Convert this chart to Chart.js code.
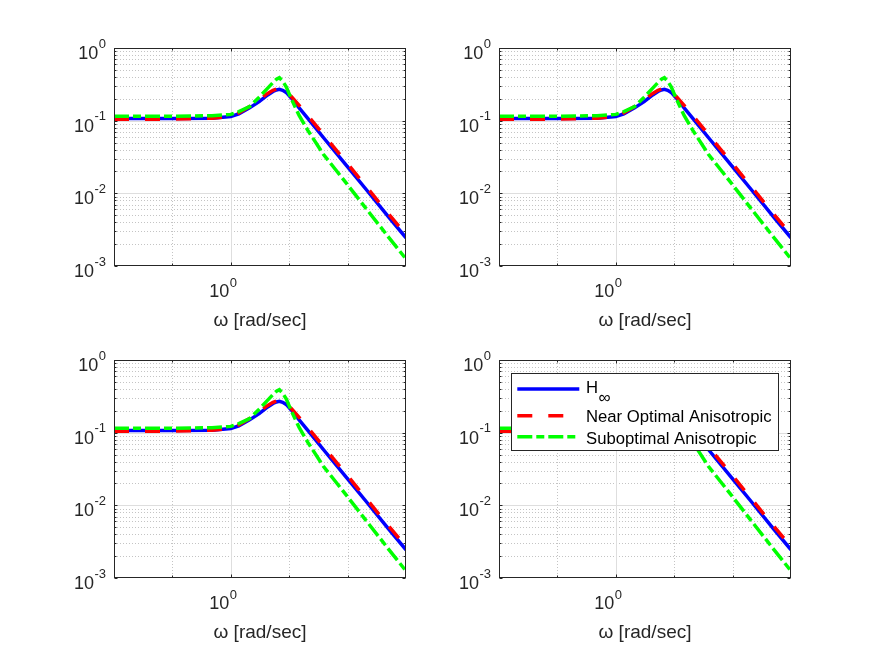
<!DOCTYPE html>
<html lang="en">
<head>
<meta charset="UTF-8">
<title>Frequency response</title>
<script src="https://cdn.jsdelivr.net/npm/chart.js"></script>
<style>
  html, body { margin: 0; padding: 0; background: #fff; }
  #fig { position: relative; width: 875px; height: 656px; overflow: hidden; background: #fff; }
  #fig canvas { position: absolute; }
</style>
</head>
<body>
<div id="fig">
  <canvas id="ax1" width="402" height="320"></canvas>
  <canvas id="ax2" width="402" height="320"></canvas>
  <canvas id="ax3" width="402" height="320"></canvas>
  <canvas id="ax4" width="402" height="320"></canvas>
</div>

<script>
// frequency points (rad/sec) and the three singular value curves
const omega   = [0.25, 0.5, 0.8, 1.0, 1.1, 1.25, 1.4, 1.55, 1.65, 1.72, 1.78, 1.85, 1.93, 2.05, 2.25, 2.5, 3.0, 4.0, 5.0, 6.5, 8.0];
const hInf    = [0.107, 0.107, 0.108, 0.114, 0.124, 0.150, 0.183, 0.226, 0.252, 0.265, 0.270, 0.262, 0.245, 0.205, 0.150, 0.107, 0.0587, 0.0231, 0.0112, 0.00475, 0.00244];
const nearOpt = [0.105, 0.105, 0.108, 0.115, 0.128, 0.157, 0.195, 0.237, 0.262, 0.272, 0.272, 0.265, 0.250, 0.215, 0.162, 0.117, 0.0645, 0.0255, 0.0123, 0.0052, 0.0027];
const subOpt  = [0.115, 0.115, 0.117, 0.122, 0.133, 0.156, 0.210, 0.280, 0.335, 0.372, 0.390, 0.350, 0.292, 0.200, 0.118, 0.073, 0.0345, 0.0131, 0.0061, 0.0025, 0.00125];
const seriesNames = ['H_∞', 'Near Optimal Anisotropic', 'Suboptimal Anisotropic'];

const xRange = [0.25, 8];
const yRange = [0.001, 1];
const xTicks = [1];
const xTickLabels = ['10^0'];
const xMinorTicks = [0.5, 2, 4];
const yTicks = [0.001, 0.01, 0.1, 1];
const yTickLabels = ['10^-3', '10^-2', '10^-1', '10^0'];
const xLabel = 'ω [rad/sec]';

const INK = '#262626';
const FONT = '"Liberation Sans", Arial, Helvetica, sans-serif';

// where each subplot's axes box sits in the figure
const panels = [
  { id: 'ax1', left: 114, top: 48, legend: false },
  { id: 'ax2', left: 499, top: 48, legend: false },
  { id: 'ax3', left: 114, top: 360, legend: false },
  { id: 'ax4', left: 499, top: 360, legend: true }
];
const plotW = 292, plotH = 218;
const padL = 90, padR = 20, padT = 25, canvasH = 320;
const titleSize = 19, titleGap = 43;

function yMinorTicks() {
  const out = [];
  for (let k = -3; k < 0; k++) {
    for (let m = 2; m <= 9; m++) out.push(m * Math.pow(10, k));
  }
  return out;
}

function splitAt(s, mark) {
  const i = s.indexOf(mark);
  return i < 0 ? [s, ''] : [s.slice(0, i), s.slice(i + 1)];
}

const matlabAxes = {
  id: 'matlabAxes',
  beforeDatasetsDraw(chart) {
    const { ctx, chartArea: a, scales } = chart;
    const sx = v => Math.round(scales.x.getPixelForValue(v)) + 0.5;
    const sy = v => Math.round(scales.y.getPixelForValue(v)) + 0.5;
    ctx.save();
    ctx.lineWidth = 1;
    // minor grid, dotted
    ctx.setLineDash([1, 2]);
    ctx.strokeStyle = '#c4c4c4';
    ctx.beginPath();
    xMinorTicks.forEach(v => { const p = sx(v); ctx.moveTo(p, a.top); ctx.lineTo(p, a.bottom); });
    yMinorTicks().forEach(v => { const p = sy(v); ctx.moveTo(a.left, p); ctx.lineTo(a.right, p); });
    ctx.stroke();
    // major grid, solid
    ctx.setLineDash([]);
    ctx.strokeStyle = '#dedede';
    ctx.beginPath();
    xTicks.forEach(v => { const p = sx(v); ctx.moveTo(p, a.top); ctx.lineTo(p, a.bottom); });
    yTicks.filter(v => v > yRange[0] && v < yRange[1]).forEach(v => {
      const p = sy(v); ctx.moveTo(a.left, p); ctx.lineTo(a.right, p);
    });
    ctx.stroke();
    ctx.restore();
  },
  afterDatasetsDraw(chart, args, opts) {
    const { ctx, chartArea: a, scales } = chart;
    const sx = v => Math.round(scales.x.getPixelForValue(v)) + 0.5;
    const sy = v => Math.round(scales.y.getPixelForValue(v)) + 0.5;
    const L = Math.round(a.left) + 0.5, R = Math.round(a.right) - 0.5;
    const T = Math.round(a.top) + 0.5, B = Math.round(a.bottom) - 0.5;
    ctx.save();
    ctx.strokeStyle = INK;
    ctx.lineWidth = 1;
    ctx.strokeRect(L, T, R - L, B - T);

    // inward tick marks on all four sides
    ctx.beginPath();
    const xt = (v, len) => { const p = sx(v); ctx.moveTo(p, B); ctx.lineTo(p, B - len); ctx.moveTo(p, T); ctx.lineTo(p, T + len); };
    const yt = (v, len) => { const p = sy(v); ctx.moveTo(L, p); ctx.lineTo(L + len, p); ctx.moveTo(R, p); ctx.lineTo(R - len, p); };
    xTicks.forEach(v => xt(v, 3));
    xMinorTicks.forEach(v => xt(v, 2));
    yTicks.forEach(v => yt(v, 3));
    yMinorTicks().forEach(v => yt(v, 2));
    ctx.stroke();

    // tick labels with superscript exponents
    ctx.fillStyle = INK;
    ctx.textBaseline = 'alphabetic';
    const baseFont = '18px ' + FONT, expFont = '13px ' + FONT;
    yTicks.forEach((v, i) => {
      const [base, exp] = splitAt(yTickLabels[i], '^');
      const p = scales.y.getPixelForValue(v);
      ctx.font = expFont;
      ctx.textAlign = 'right';
      const ew = ctx.measureText(exp).width;
      ctx.fillText(exp, a.left - 8, p - 0.5);
      ctx.font = baseFont;
      ctx.fillText(base, a.left - 8 - ew - 0.5, p + 11);
    });
    xTicks.forEach((v, i) => {
      const [base, exp] = splitAt(xTickLabels[i], '^');
      const p = scales.x.getPixelForValue(v);
      ctx.font = baseFont;
      ctx.textAlign = 'right';
      ctx.fillText(base, p - 1.5, a.bottom + 30.7);
      ctx.font = expFont;
      ctx.textAlign = 'left';
      ctx.fillText(exp, p - 1, a.bottom + 20.5);
    });

    if (opts.legend) drawLegend(chart);
    ctx.restore();
  }
};

function drawLegend(chart) {
  const { ctx, chartArea: a } = chart;
  const bx = Math.round(a.left + 12) + 0.5, by = Math.round(a.top + 13) + 0.5;
  ctx.save();
  ctx.fillStyle = '#fff';
  ctx.fillRect(bx, by, 267, 77);
  ctx.strokeStyle = INK;
  ctx.lineWidth = 1;
  ctx.strokeRect(bx, by, 267, 77);
  const lineY = [29, 55.7, 76.7];
  const textY = [33.3, 61.7, 84.3];
  chart.data.datasets.forEach((ds, i) => {
    ctx.strokeStyle = ds.borderColor;
    ctx.lineWidth = ds.borderWidth;
    ctx.setLineDash(ds.borderDash || []);
    ctx.beginPath();
    ctx.moveTo(a.left + 18.3, a.top + lineY[i]);
    ctx.lineTo(a.left + 80.3, a.top + lineY[i]);
    ctx.stroke();
    const [main, sub] = splitAt(ds.label, '_');
    ctx.fillStyle = '#000';
    ctx.textAlign = 'left';
    ctx.textBaseline = 'alphabetic';
    ctx.font = '16.7px ' + FONT;
    ctx.fillText(main, a.left + 87, a.top + textY[i]);
    if (sub) {
      const w = ctx.measureText(main).width;
      ctx.font = '17px ' + FONT;
      ctx.fillText(sub, a.left + 87 + w + 0.5, a.top + textY[i] + 9.5);
    }
  });
  ctx.restore();
}

function points(ys) {
  return omega.map((w, i) => ({ x: w, y: ys[i] }));
}

function makeDatasets() {
  const common = { pointRadius: 0, fill: false, tension: 0, borderWidth: 3.5, clip: 0 };
  return [
    Object.assign({ label: seriesNames[0], data: points(hInf), borderColor: '#0000ff', borderDash: [], order: 3 }, common),
    Object.assign({ label: seriesNames[1], data: points(nearOpt), borderColor: '#ff0000', borderDash: [15, 16], order: 2 }, common),
    Object.assign({ label: seriesNames[2], data: points(subOpt), borderColor: '#00ff00', borderDash: [15, 4, 8, 4], order: 1 }, common)
  ];
}

const titleHeight = titleSize * 1.2 + titleGap;

panels.forEach(p => {
  const canvas = document.getElementById(p.id);
  canvas.style.left = (p.left - padL) + 'px';
  canvas.style.top = (p.top - padT) + 'px';
  new Chart(canvas.getContext('2d'), {
    type: 'line',
    data: { datasets: makeDatasets() },
    options: {
      responsive: false,
      animation: false,
      events: [],
      layout: {
        padding: { left: padL, right: padR, top: padT, bottom: canvasH - padT - plotH - titleHeight }
      },
      plugins: {
        legend: { display: false },
        tooltip: { enabled: false },
        matlabAxes: { legend: p.legend }
      },
      scales: {
        x: {
          type: 'logarithmic',
          min: xRange[0],
          max: xRange[1],
          grid: { display: false, drawTicks: false },
          border: { display: false },
          ticks: { display: false },
          title: {
            display: true,
            text: xLabel,
            color: INK,
            font: { family: FONT, size: titleSize, lineHeight: 1.2 },
            padding: { top: titleGap, bottom: 0 }
          }
        },
        y: {
          type: 'logarithmic',
          display: false,
          min: yRange[0],
          max: yRange[1]
        }
      }
    },
    plugins: [matlabAxes]
  });
});
</script>
</body>
</html>
